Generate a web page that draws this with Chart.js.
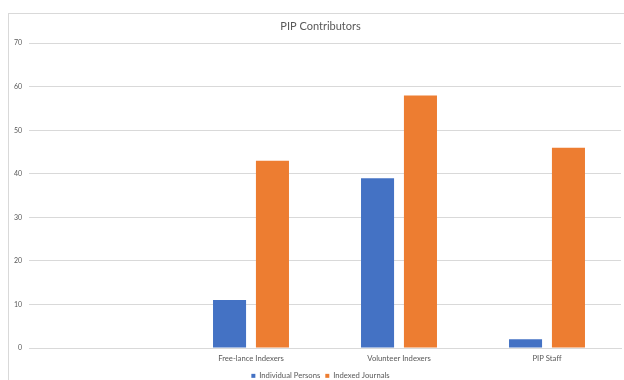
<!DOCTYPE html>
<html>
<head>
<meta charset="utf-8">
<script src="https://cdn.jsdelivr.net/npm/chart.js@4"></script>
<style>
  html, body { margin: 0; padding: 0; background: #fff; }
  #wrap { width: 624px; height: 380px; }
</style>
</head>
<body>
<div id="wrap"><canvas id="pip" width="624" height="380"></canvas></div>
<script>
// chart data
const categories = ['', 'Free-lance Indexers', 'Volunteer Indexers', 'PIP Staff'];
const individualPersons = [null, 11, 39, 2];
const indexedJournals = [null, 43, 58, 46];
const yTicks = [0, 10, 20, 30, 40, 50, 60, 70];

const textGrey = '#595959';
const gridGrey = '#d9d9d9';

const frame = {
    id: 'chartFrame',
    beforeDraw: (chart) => {
      const {ctx} = chart;
      ctx.save();
      ctx.fillStyle = '#fff';
      ctx.fillRect(0, 0, chart.width, chart.height);
      ctx.strokeStyle = gridGrey;
      ctx.lineWidth = 1;
      ctx.strokeRect(8.5, 13.5, 700, 500);
      ctx.restore();
    },
    // the frame runs past the right edge, so title and legend sit a bit right of the plot centre
    afterLayout: (chart) => {
      const shift = 10;
      [chart.titleBlock, chart.legend].forEach(b => {
        if (b) { b.left += shift; b.right += shift; }
      });
    }
};

new Chart(document.getElementById('pip'), {
    type: 'bar',
    data: {
      labels: categories,
      datasets: [
        {
          label: 'Individual Persons',
          data: individualPersons,
          backgroundColor: '#4472C4',
          categoryPercentage: 0.58,
          barPercentage: 0.77
        },
        {
          label: 'Indexed Journals',
          data: indexedJournals,
          backgroundColor: '#ED7D31',
          categoryPercentage: 0.58,
          barPercentage: 0.77
        }
      ]
    },
    options: {
      responsive: false,
      animation: false,
      layout: { padding: { left: 0, right: 3, top: 20, bottom: 0 } },
      plugins: {
        title: {
          display: true,
          text: 'PIP Contributors',
          color: textGrey,
          font: { family: 'Lato', size: 11, weight: 'normal' },
          padding: { top: 0, bottom: 10 }
        },
        legend: {
          position: 'bottom',
          maxHeight: 13,
          labels: {
            color: textGrey,
            font: { family: 'Lato', size: 7.7 },
            boxWidth: 4,
            boxHeight: 4,
            padding: 5
          }
        },
        tooltip: { enabled: false }
      },
      scales: {
        x: {
          afterFit: (scale) => { scale.height = 19; },
          grid: { display: false, drawTicks: false },
          border: { color: gridGrey, width: 1 },
          ticks: {
            color: textGrey,
            font: { family: 'Lato', size: 7.7 },
            padding: 6,
            maxRotation: 0
          }
        },
        y: {
          min: 0,
          max: 70,
          afterFit: (scale) => { scale.width = 29; },
          afterBuildTicks: (scale) => { scale.ticks = yTicks.map(v => ({ value: v })); },
          grid: { color: gridGrey, drawTicks: false },
          border: { display: false },
          ticks: {
            color: textGrey,
            font: { family: 'Lato', size: 7 },
            padding: 7
          }
        }
      }
    },
    plugins: [frame]
});
</script>
</body>
</html>
